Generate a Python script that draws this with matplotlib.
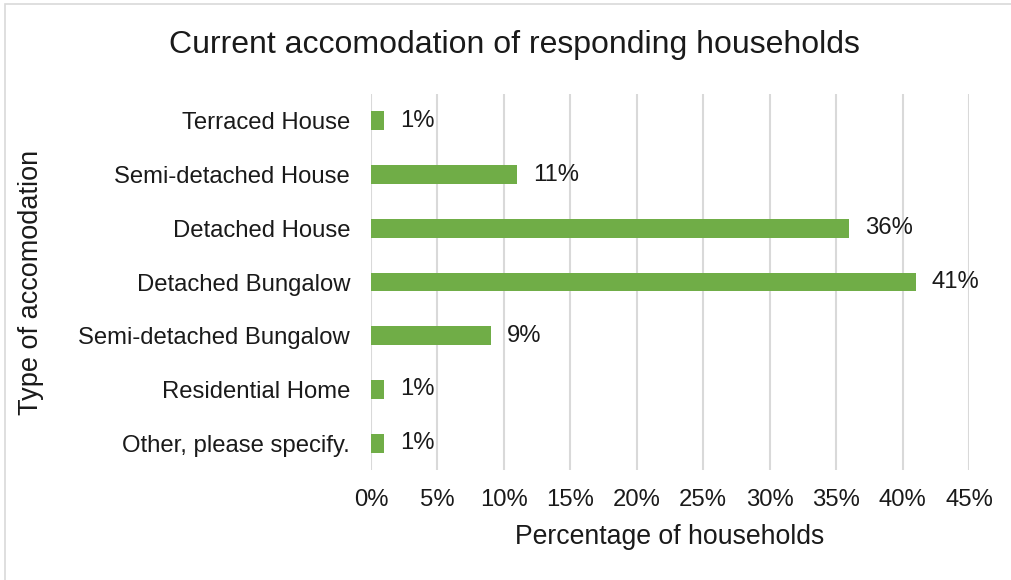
import matplotlib
matplotlib.use("Agg")
import matplotlib.pyplot as plt
from matplotlib.patches import Rectangle
from matplotlib.ticker import FuncFormatter

categories = ["Terraced House", "Semi-detached House", "Detached House", "Detached Bungalow",
              "Semi-detached Bungalow", "Residential Home", "Other, please specify."]
values = [1, 11, 36, 41, 9, 1, 1]
xticks = [0, 5, 10, 15, 20, 25, 30, 35, 40, 45]

plt.rcParams["font.family"] = ["Liberation Sans", "DejaVu Sans"]

fig = plt.figure(figsize=(10.11, 5.80), dpi=100)
ax = fig.add_axes([371 / 1011, 1 - 470 / 580, 598 / 1011, 376 / 580])

# light chart frame (cut at right / bottom like the reference)
fig.patches.append(Rectangle((5 / 1011, -0.1), 1.2, 1 - 4 / 580 + 0.1, transform=fig.transFigure,
                             fill=False, ec="#d9d9d9", lw=1.2, zorder=0))

y = list(range(len(categories)))
ax.barh(y, values, height=0.35, color="#70ad47", zorder=3)
for yi, v in zip(y, values):
    ax.text(v + 1.2, yi, f"{v}%", va="center", ha="left", fontsize=17.2, color="#1a1a1a")

ax.set_xlim(0, 45)
ax.set_ylim(len(categories) - 0.5, -0.5)
ax.set_xticks(xticks)
ax.xaxis.set_major_formatter(FuncFormatter(lambda v, p: f"{v:.0f}%"))
ax.set_yticks(y)
ax.set_yticklabels(categories)
ax.tick_params(axis="both", length=0, labelsize=17.2, colors="#1a1a1a")
ax.tick_params(axis="x", pad=14)
ax.tick_params(axis="y", pad=15)
ax.grid(axis="x", color="#d9d9d9", lw=1.5, zorder=0)
for s in ax.spines.values():
    s.set_visible(False)

fig.text(670 / 1011, 1 - 537 / 580, "Percentage of households", fontsize=19.2,
         ha="center", va="center", color="#1a1a1a")
fig.text(31 / 1011, 1 - 282 / 580, "Type of accomodation", rotation=90, fontsize=19.5,
         va="center", ha="center", color="#1a1a1a")
fig.text(514 / 1011, 1 - 45 / 580, "Current accomodation of responding households",
         fontsize=23, ha="center", va="center", color="#1a1a1a")

fig.savefig("out.png", dpi=100)
